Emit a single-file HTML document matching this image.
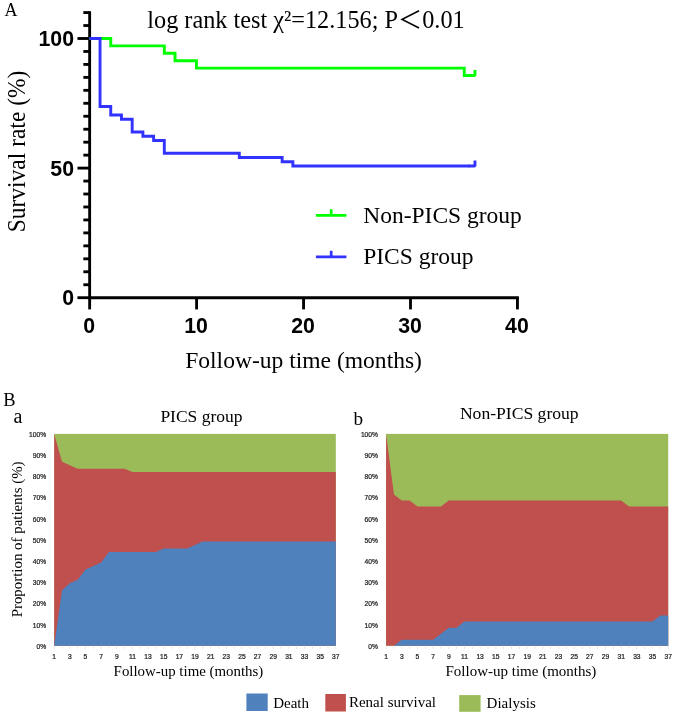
<!DOCTYPE html>
<html><head><meta charset="utf-8"><title>Figure</title>
<style>
html,body{margin:0;padding:0;background:#fff;}
svg{display:block;will-change:transform}
.serif{font-family:"Liberation Serif","Noto Serif CJK SC",serif;fill:#000}
.cjk{font-family:"Liberation Serif","Noto Sans CJK SC",sans-serif}
.sansb{font-family:"Liberation Sans",sans-serif;font-weight:bold;fill:#000}
.tiny{font-family:"Liberation Sans",sans-serif;fill:#1c1c1c;stroke:#1c1c1c;stroke-width:0.22px;font-size:6.7px}
</style></head><body>
<svg width="675" height="716" viewBox="0 0 675 716">
<rect width="675" height="716" fill="#fff"/>

<g stroke="#000" stroke-width="2.85" fill="none" stroke-linecap="butt">
<path d="M89.65,11.16V299.12"/>
<path d="M88.23,297.70H518.87"/>
<path d="M77.45,297.70H89.65"/>
<path d="M83.35,284.74H89.65"/>
<path d="M83.35,271.78H89.65"/>
<path d="M83.35,258.82H89.65"/>
<path d="M83.35,245.86H89.65"/>
<path d="M83.35,232.90H89.65"/>
<path d="M83.35,219.94H89.65"/>
<path d="M83.35,206.98H89.65"/>
<path d="M83.35,194.02H89.65"/>
<path d="M83.35,181.06H89.65"/>
<path d="M77.45,168.10H89.65"/>
<path d="M83.35,155.14H89.65"/>
<path d="M83.35,142.18H89.65"/>
<path d="M83.35,129.22H89.65"/>
<path d="M83.35,116.26H89.65"/>
<path d="M83.35,103.30H89.65"/>
<path d="M83.35,90.34H89.65"/>
<path d="M83.35,77.38H89.65"/>
<path d="M83.35,64.42H89.65"/>
<path d="M83.35,51.46H89.65"/>
<path d="M77.45,38.50H89.65"/>
<path d="M83.35,25.54H89.65"/>
<path d="M83.35,12.58H89.65"/>
<path d="M89.65,297.70V309.40"/>
<path d="M196.60,297.70V309.40"/>
<path d="M303.55,297.70V309.40"/>
<path d="M410.50,297.70V309.40"/>
<path d="M517.45,297.70V309.40"/>
</g>
<path d="M89.33,38.50H110.75V45.91H164.31V53.31H175.03V60.72H196.45V68.12H464.25V75.53H469.61" fill="none" stroke="#00ff00" stroke-width="2.9"/>
<path d="M468.53,75.53H474.96V69.93" fill="none" stroke="#00ff00" stroke-width="2.9" stroke-linejoin="bevel"/>
<path d="M89.33,38.50H100.04V106.49H110.75V114.99H121.47V119.23H132.18V131.98H142.89V136.23H153.60V140.48H164.31V153.23H239.30V157.48H282.15V161.73H292.86V165.98H469.61" fill="none" stroke="#3333ff" stroke-width="2.9"/>
<path d="M468.53,165.98H474.96V160.38" fill="none" stroke="#3333ff" stroke-width="2.9" stroke-linejoin="bevel"/>
<path d="M315.9,215.3H346.4M331.2,215.3V209.2" fill="none" stroke="#00ff00" stroke-width="2.7"/>
<path d="M315.9,256.8H346.4M331.2,256.8V250.7" fill="none" stroke="#3333ff" stroke-width="2.7"/>
<text class="serif" x="4.5" y="16" font-size="18">A</text>
<text class="serif" x="147.3" y="27.5" font-size="24.25">log rank test χ²=12.156; P<tspan class="cjk">＜</tspan>0.01</text>
<text class="serif" x="363.2" y="222.8" font-size="23.5">Non-PICS group</text>
<text class="serif" x="363.2" y="263.6" font-size="23.5">PICS group</text>
<text class="serif" x="185.2" y="367.5" font-size="23.55">Follow-up time (months)</text>
<text class="serif" transform="translate(24.9,232.3) rotate(-90) scale(1,1.075)" font-size="23.5">Survival rate (%)</text>
<text class="sansb" x="74" y="46.10" font-size="21.3" text-anchor="end">100</text>
<text class="sansb" x="74" y="175.70" font-size="21.3" text-anchor="end">50</text>
<text class="sansb" x="74" y="305.30" font-size="21.3" text-anchor="end">0</text>
<text class="sansb" x="89.15" y="333.3" font-size="21.3" text-anchor="middle">0</text>
<text class="sansb" x="196.10" y="333.3" font-size="21.3" text-anchor="middle">10</text>
<text class="sansb" x="303.05" y="333.3" font-size="21.3" text-anchor="middle">20</text>
<text class="sansb" x="410.00" y="333.3" font-size="21.3" text-anchor="middle">30</text>
<text class="sansb" x="516.95" y="333.3" font-size="21.3" text-anchor="middle">40</text>
<text class="serif" x="3.2" y="405.9" font-size="18.5">B</text>
<text class="serif" x="13.5" y="423.3" font-size="20">a</text>
<text class="serif" x="353.5" y="425.2" font-size="19.2">b</text>
<rect x="54.20" y="433.90" width="281.60" height="211.90" fill="#9bbb59"/>
<polygon points="54.20,645.80 54.20,433.90 62.02,461.69 69.84,465.16 77.67,468.64 85.49,468.64 93.31,468.64 101.13,468.64 108.96,468.64 116.78,468.64 124.60,468.64 132.42,472.11 140.24,472.11 148.07,472.11 155.89,472.11 163.71,472.11 171.53,472.11 179.36,472.11 187.18,472.11 195.00,472.11 202.82,472.11 210.64,472.11 218.47,472.11 226.29,472.11 234.11,472.11 241.93,472.11 249.76,472.11 257.58,472.11 265.40,472.11 273.22,472.11 281.04,472.11 288.87,472.11 296.69,472.11 304.51,472.11 312.33,472.11 320.16,472.11 327.98,472.11 335.80,472.11 335.80,645.80" fill="#c0504d"/>
<polygon points="54.20,645.80 54.20,645.80 62.02,590.22 69.84,583.27 77.67,579.80 85.49,569.38 93.31,565.90 101.13,562.43 108.96,552.01 116.78,552.01 124.60,552.01 132.42,552.01 140.24,552.01 148.07,552.01 155.89,552.01 163.71,548.53 171.53,548.53 179.36,548.53 187.18,548.53 195.00,545.06 202.82,541.59 210.64,541.59 218.47,541.59 226.29,541.59 234.11,541.59 241.93,541.59 249.76,541.59 257.58,541.59 265.40,541.59 273.22,541.59 281.04,541.59 288.87,541.59 296.69,541.59 304.51,541.59 312.33,541.59 320.16,541.59 327.98,541.59 335.80,541.59 335.80,645.80" fill="#4f81bd"/>
<rect x="53.80" y="645.80" width="0.8" height="3.2" fill="#e3e3e3"/>
<rect x="61.62" y="645.80" width="0.8" height="3.2" fill="#e3e3e3"/>
<rect x="69.44" y="645.80" width="0.8" height="3.2" fill="#e3e3e3"/>
<rect x="77.27" y="645.80" width="0.8" height="3.2" fill="#e3e3e3"/>
<rect x="85.09" y="645.80" width="0.8" height="3.2" fill="#e3e3e3"/>
<rect x="92.91" y="645.80" width="0.8" height="3.2" fill="#e3e3e3"/>
<rect x="100.73" y="645.80" width="0.8" height="3.2" fill="#e3e3e3"/>
<rect x="108.56" y="645.80" width="0.8" height="3.2" fill="#e3e3e3"/>
<rect x="116.38" y="645.80" width="0.8" height="3.2" fill="#e3e3e3"/>
<rect x="124.20" y="645.80" width="0.8" height="3.2" fill="#e3e3e3"/>
<rect x="132.02" y="645.80" width="0.8" height="3.2" fill="#e3e3e3"/>
<rect x="139.84" y="645.80" width="0.8" height="3.2" fill="#e3e3e3"/>
<rect x="147.67" y="645.80" width="0.8" height="3.2" fill="#e3e3e3"/>
<rect x="155.49" y="645.80" width="0.8" height="3.2" fill="#e3e3e3"/>
<rect x="163.31" y="645.80" width="0.8" height="3.2" fill="#e3e3e3"/>
<rect x="171.13" y="645.80" width="0.8" height="3.2" fill="#e3e3e3"/>
<rect x="178.96" y="645.80" width="0.8" height="3.2" fill="#e3e3e3"/>
<rect x="186.78" y="645.80" width="0.8" height="3.2" fill="#e3e3e3"/>
<rect x="194.60" y="645.80" width="0.8" height="3.2" fill="#e3e3e3"/>
<rect x="202.42" y="645.80" width="0.8" height="3.2" fill="#e3e3e3"/>
<rect x="210.24" y="645.80" width="0.8" height="3.2" fill="#e3e3e3"/>
<rect x="218.07" y="645.80" width="0.8" height="3.2" fill="#e3e3e3"/>
<rect x="225.89" y="645.80" width="0.8" height="3.2" fill="#e3e3e3"/>
<rect x="233.71" y="645.80" width="0.8" height="3.2" fill="#e3e3e3"/>
<rect x="241.53" y="645.80" width="0.8" height="3.2" fill="#e3e3e3"/>
<rect x="249.36" y="645.80" width="0.8" height="3.2" fill="#e3e3e3"/>
<rect x="257.18" y="645.80" width="0.8" height="3.2" fill="#e3e3e3"/>
<rect x="265.00" y="645.80" width="0.8" height="3.2" fill="#e3e3e3"/>
<rect x="272.82" y="645.80" width="0.8" height="3.2" fill="#e3e3e3"/>
<rect x="280.64" y="645.80" width="0.8" height="3.2" fill="#e3e3e3"/>
<rect x="288.47" y="645.80" width="0.8" height="3.2" fill="#e3e3e3"/>
<rect x="296.29" y="645.80" width="0.8" height="3.2" fill="#e3e3e3"/>
<rect x="304.11" y="645.80" width="0.8" height="3.2" fill="#e3e3e3"/>
<rect x="311.93" y="645.80" width="0.8" height="3.2" fill="#e3e3e3"/>
<rect x="319.76" y="645.80" width="0.8" height="3.2" fill="#e3e3e3"/>
<rect x="327.58" y="645.80" width="0.8" height="3.2" fill="#e3e3e3"/>
<rect x="335.40" y="645.80" width="0.8" height="3.2" fill="#e3e3e3"/>
<text class="tiny" x="54.20" y="659.4" text-anchor="middle">1</text>
<text class="tiny" x="69.84" y="659.4" text-anchor="middle">3</text>
<text class="tiny" x="85.49" y="659.4" text-anchor="middle">5</text>
<text class="tiny" x="101.13" y="659.4" text-anchor="middle">7</text>
<text class="tiny" x="116.78" y="659.4" text-anchor="middle">9</text>
<text class="tiny" x="132.42" y="659.4" text-anchor="middle">11</text>
<text class="tiny" x="148.07" y="659.4" text-anchor="middle">13</text>
<text class="tiny" x="163.71" y="659.4" text-anchor="middle">15</text>
<text class="tiny" x="179.36" y="659.4" text-anchor="middle">17</text>
<text class="tiny" x="195.00" y="659.4" text-anchor="middle">19</text>
<text class="tiny" x="210.64" y="659.4" text-anchor="middle">21</text>
<text class="tiny" x="226.29" y="659.4" text-anchor="middle">23</text>
<text class="tiny" x="241.93" y="659.4" text-anchor="middle">25</text>
<text class="tiny" x="257.58" y="659.4" text-anchor="middle">27</text>
<text class="tiny" x="273.22" y="659.4" text-anchor="middle">29</text>
<text class="tiny" x="288.87" y="659.4" text-anchor="middle">31</text>
<text class="tiny" x="304.51" y="659.4" text-anchor="middle">33</text>
<text class="tiny" x="320.16" y="659.4" text-anchor="middle">35</text>
<text class="tiny" x="335.80" y="659.4" text-anchor="middle">37</text>
<text class="tiny" x="46.10" y="648.70" text-anchor="end">0%</text>
<text class="tiny" x="46.10" y="627.51" text-anchor="end">10%</text>
<text class="tiny" x="46.10" y="606.32" text-anchor="end">20%</text>
<text class="tiny" x="46.10" y="585.13" text-anchor="end">30%</text>
<text class="tiny" x="46.10" y="563.94" text-anchor="end">40%</text>
<text class="tiny" x="46.10" y="542.75" text-anchor="end">50%</text>
<text class="tiny" x="46.10" y="521.56" text-anchor="end">60%</text>
<text class="tiny" x="46.10" y="500.37" text-anchor="end">70%</text>
<text class="tiny" x="46.10" y="479.18" text-anchor="end">80%</text>
<text class="tiny" x="46.10" y="457.99" text-anchor="end">90%</text>
<text class="tiny" x="46.10" y="436.80" text-anchor="end">100%</text>
<rect x="386.10" y="433.90" width="282.10" height="211.90" fill="#9bbb59"/>
<polygon points="386.10,645.80 386.10,433.90 393.94,494.44 401.77,500.50 409.61,500.50 417.44,506.55 425.28,506.55 433.12,506.55 440.95,506.55 448.79,500.50 456.62,500.50 464.46,500.50 472.30,500.50 480.13,500.50 487.97,500.50 495.81,500.50 503.64,500.50 511.48,500.50 519.31,500.50 527.15,500.50 534.99,500.50 542.82,500.50 550.66,500.50 558.49,500.50 566.33,500.50 574.17,500.50 582.00,500.50 589.84,500.50 597.68,500.50 605.51,500.50 613.35,500.50 621.18,500.50 629.02,506.55 636.86,506.55 644.69,506.55 652.53,506.55 660.36,506.55 668.20,506.55 668.20,645.80" fill="#c0504d"/>
<polygon points="386.10,645.80 386.10,645.80 393.94,645.80 401.77,639.75 409.61,639.75 417.44,639.75 425.28,639.75 433.12,639.75 440.95,633.69 448.79,627.64 456.62,627.64 464.46,621.58 472.30,621.58 480.13,621.58 487.97,621.58 495.81,621.58 503.64,621.58 511.48,621.58 519.31,621.58 527.15,621.58 534.99,621.58 542.82,621.58 550.66,621.58 558.49,621.58 566.33,621.58 574.17,621.58 582.00,621.58 589.84,621.58 597.68,621.58 605.51,621.58 613.35,621.58 621.18,621.58 629.02,621.58 636.86,621.58 644.69,621.58 652.53,621.58 660.36,615.53 668.20,615.53 668.20,645.80" fill="#4f81bd"/>
<rect x="385.70" y="645.80" width="0.8" height="3.2" fill="#e3e3e3"/>
<rect x="393.54" y="645.80" width="0.8" height="3.2" fill="#e3e3e3"/>
<rect x="401.37" y="645.80" width="0.8" height="3.2" fill="#e3e3e3"/>
<rect x="409.21" y="645.80" width="0.8" height="3.2" fill="#e3e3e3"/>
<rect x="417.04" y="645.80" width="0.8" height="3.2" fill="#e3e3e3"/>
<rect x="424.88" y="645.80" width="0.8" height="3.2" fill="#e3e3e3"/>
<rect x="432.72" y="645.80" width="0.8" height="3.2" fill="#e3e3e3"/>
<rect x="440.55" y="645.80" width="0.8" height="3.2" fill="#e3e3e3"/>
<rect x="448.39" y="645.80" width="0.8" height="3.2" fill="#e3e3e3"/>
<rect x="456.23" y="645.80" width="0.8" height="3.2" fill="#e3e3e3"/>
<rect x="464.06" y="645.80" width="0.8" height="3.2" fill="#e3e3e3"/>
<rect x="471.90" y="645.80" width="0.8" height="3.2" fill="#e3e3e3"/>
<rect x="479.73" y="645.80" width="0.8" height="3.2" fill="#e3e3e3"/>
<rect x="487.57" y="645.80" width="0.8" height="3.2" fill="#e3e3e3"/>
<rect x="495.41" y="645.80" width="0.8" height="3.2" fill="#e3e3e3"/>
<rect x="503.24" y="645.80" width="0.8" height="3.2" fill="#e3e3e3"/>
<rect x="511.08" y="645.80" width="0.8" height="3.2" fill="#e3e3e3"/>
<rect x="518.91" y="645.80" width="0.8" height="3.2" fill="#e3e3e3"/>
<rect x="526.75" y="645.80" width="0.8" height="3.2" fill="#e3e3e3"/>
<rect x="534.59" y="645.80" width="0.8" height="3.2" fill="#e3e3e3"/>
<rect x="542.42" y="645.80" width="0.8" height="3.2" fill="#e3e3e3"/>
<rect x="550.26" y="645.80" width="0.8" height="3.2" fill="#e3e3e3"/>
<rect x="558.09" y="645.80" width="0.8" height="3.2" fill="#e3e3e3"/>
<rect x="565.93" y="645.80" width="0.8" height="3.2" fill="#e3e3e3"/>
<rect x="573.77" y="645.80" width="0.8" height="3.2" fill="#e3e3e3"/>
<rect x="581.60" y="645.80" width="0.8" height="3.2" fill="#e3e3e3"/>
<rect x="589.44" y="645.80" width="0.8" height="3.2" fill="#e3e3e3"/>
<rect x="597.28" y="645.80" width="0.8" height="3.2" fill="#e3e3e3"/>
<rect x="605.11" y="645.80" width="0.8" height="3.2" fill="#e3e3e3"/>
<rect x="612.95" y="645.80" width="0.8" height="3.2" fill="#e3e3e3"/>
<rect x="620.78" y="645.80" width="0.8" height="3.2" fill="#e3e3e3"/>
<rect x="628.62" y="645.80" width="0.8" height="3.2" fill="#e3e3e3"/>
<rect x="636.46" y="645.80" width="0.8" height="3.2" fill="#e3e3e3"/>
<rect x="644.29" y="645.80" width="0.8" height="3.2" fill="#e3e3e3"/>
<rect x="652.13" y="645.80" width="0.8" height="3.2" fill="#e3e3e3"/>
<rect x="659.96" y="645.80" width="0.8" height="3.2" fill="#e3e3e3"/>
<rect x="667.80" y="645.80" width="0.8" height="3.2" fill="#e3e3e3"/>
<text class="tiny" x="386.10" y="659.4" text-anchor="middle">1</text>
<text class="tiny" x="401.77" y="659.4" text-anchor="middle">3</text>
<text class="tiny" x="417.44" y="659.4" text-anchor="middle">5</text>
<text class="tiny" x="433.12" y="659.4" text-anchor="middle">7</text>
<text class="tiny" x="448.79" y="659.4" text-anchor="middle">9</text>
<text class="tiny" x="464.46" y="659.4" text-anchor="middle">11</text>
<text class="tiny" x="480.13" y="659.4" text-anchor="middle">13</text>
<text class="tiny" x="495.81" y="659.4" text-anchor="middle">15</text>
<text class="tiny" x="511.48" y="659.4" text-anchor="middle">17</text>
<text class="tiny" x="527.15" y="659.4" text-anchor="middle">19</text>
<text class="tiny" x="542.82" y="659.4" text-anchor="middle">21</text>
<text class="tiny" x="558.49" y="659.4" text-anchor="middle">23</text>
<text class="tiny" x="574.17" y="659.4" text-anchor="middle">25</text>
<text class="tiny" x="589.84" y="659.4" text-anchor="middle">27</text>
<text class="tiny" x="605.51" y="659.4" text-anchor="middle">29</text>
<text class="tiny" x="621.18" y="659.4" text-anchor="middle">31</text>
<text class="tiny" x="636.86" y="659.4" text-anchor="middle">33</text>
<text class="tiny" x="652.53" y="659.4" text-anchor="middle">35</text>
<text class="tiny" x="668.20" y="659.4" text-anchor="middle">37</text>
<text class="tiny" x="378.00" y="648.70" text-anchor="end">0%</text>
<text class="tiny" x="378.00" y="627.51" text-anchor="end">10%</text>
<text class="tiny" x="378.00" y="606.32" text-anchor="end">20%</text>
<text class="tiny" x="378.00" y="585.13" text-anchor="end">30%</text>
<text class="tiny" x="378.00" y="563.94" text-anchor="end">40%</text>
<text class="tiny" x="378.00" y="542.75" text-anchor="end">50%</text>
<text class="tiny" x="378.00" y="521.56" text-anchor="end">60%</text>
<text class="tiny" x="378.00" y="500.37" text-anchor="end">70%</text>
<text class="tiny" x="378.00" y="479.18" text-anchor="end">80%</text>
<text class="tiny" x="378.00" y="457.99" text-anchor="end">90%</text>
<text class="tiny" x="378.00" y="436.80" text-anchor="end">100%</text>
<text class="serif" x="160.4" y="422.2" font-size="17.5">PICS group</text>
<text class="serif" x="459.9" y="419.2" font-size="17.6">Non-PICS group</text>
<text class="serif" x="113.6" y="676.4" font-size="14.9">Follow-up time (months)</text>
<text class="serif" x="445.5" y="676.4" font-size="15.0">Follow-up time (months)</text>
<text class="serif" transform="translate(22.1,617.3) rotate(-90) scale(1,1.02)" font-size="14.9">Proportion of patients (%)</text>
<rect x="246.4" y="693.5" width="21.3" height="17.5" fill="#4f81bd"/>
<rect x="325.3" y="694" width="20.6" height="17.5" fill="#c0504d"/>
<rect x="459.2" y="695.1" width="21.4" height="16.7" fill="#9bbb59"/>
<text class="serif" x="273.2" y="708" font-size="15">Death</text>
<text class="serif" x="348.9" y="706.8" font-size="15">Renal survival</text>
<text class="serif" x="486.6" y="708.4" font-size="15">Dialysis</text>
</svg></body></html>
